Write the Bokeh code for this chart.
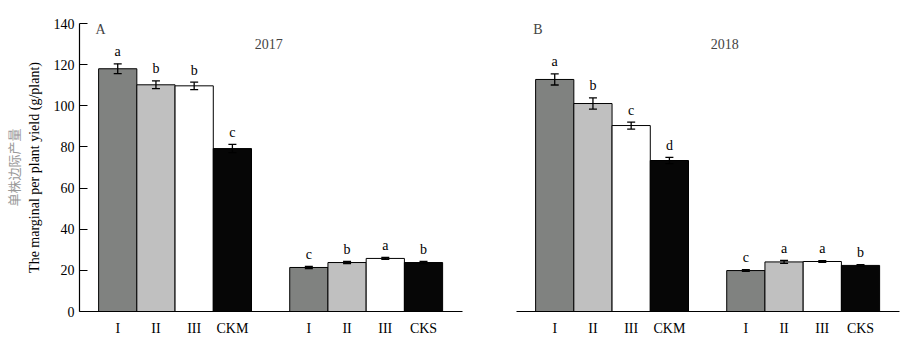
from bokeh.plotting import figure
from bokeh.models import (ColumnDataSource, Whisker, TeeHead, FixedTicker,
                          Range1d, Title, Label)
from bokeh.layouts import row
from bokeh.embed import file_html
from bokeh.resources import INLINE
from bokeh.core.properties import value

# ---- data ----
treatments = ["I", "II", "III", "CKM", "I", "II", "III", "CKS"]
bar_colors = ["#808280", "#c0c0c0", "#ffffff", "#060606",
              "#808280", "#c0c0c0", "#ffffff", "#060606"]
yield_2017 = [118.0, 110.2, 109.7, 79.2, 21.4, 23.8, 25.8, 23.8]
err_2017 = [2.4, 1.9, 1.8, 2.0, 0.5, 0.5, 0.5, 0.5]
sig_2017 = ["a", "b", "b", "c", "c", "b", "a", "b"]
yield_2018 = [112.8, 101.1, 90.4, 73.4, 19.9, 24.1, 24.3, 22.4]
err_2018 = [2.7, 2.7, 1.7, 1.5, 0.4, 0.7, 0.4, 0.4]
sig_2018 = ["a", "b", "c", "d", "c", "a", "a", "b"]
y_ticks = [0, 20, 40, 60, 80, 100, 120, 140]

SERIF = "Liberation Serif"
FS = "14px"

# bar positions: two groups of four, one empty slot between
xpos = [i + 1 + (i // 4) for i in range(len(treatments))]


def make_panel(vals, errs, sig, panel_letter, year, show_y, width,
               border_left, border_right, letter_x, year_x):
    p = figure(width=width, height=345, x_range=Range1d(0, 10.02),
               y_range=Range1d(0, 140), output_backend="svg",
               toolbar_location=None, min_border_left=border_left,
               min_border_right=border_right, min_border_top=23,
               min_border_bottom=34)
    p.outline_line_color = None
    p.grid.visible = False
    p.background_fill_color = "white"
    p.border_fill_color = "white"

    src = ColumnDataSource(dict(
        x=xpos, top=vals, color=bar_colors,
        upper=[v + e for v, e in zip(vals, errs)],
        lower=[v - e for v, e in zip(vals, errs)],
        sig=sig))

    p.vbar(x="x", top="top", bottom=0, width=1.0, fill_color="color",
           line_color="black", line_width=1, source=src)

    w = Whisker(source=src, base="x", upper="upper", lower="lower",
                line_color="black", line_width=1.3, level="overlay",
                upper_head=TeeHead(size=8, line_width=1.3, line_color="black"),
                lower_head=TeeHead(size=8, line_width=1.3, line_color="black"))
    p.add_layout(w)

    p.text(x="x", y="upper", text="sig", source=src, text_align="center",
           text_baseline="alphabetic", y_offset=-12,
           text_font=value(SERIF), text_font_size=FS, text_color="black")

    p.add_layout(Label(x=letter_x, y=137, text=panel_letter,
                       text_align="center", text_baseline="middle",
                       text_font=SERIF, text_font_size=FS))
    p.add_layout(Label(x=year_x, y=130, text=year, text_align="center",
                       text_baseline="middle", text_font=SERIF,
                       text_font_size=FS))

    # x axis
    xa = p.xaxis[0]
    xa.ticker = FixedTicker(ticks=xpos)
    xa.major_label_overrides = {x: t for x, t in zip(xpos, treatments)}
    xa.major_tick_in = 0
    xa.major_tick_out = 0
    xa.minor_tick_line_color = None
    xa.major_label_standoff = 9
    xa.major_label_text_font = SERIF
    xa.major_label_text_font_size = FS
    xa.major_label_text_color = "black"
    xa.axis_line_color = "black"
    xa.axis_line_width = 1.2

    ya = p.yaxis[0]
    if show_y:
        ya.ticker = FixedTicker(ticks=y_ticks)
        ya.major_tick_in = 8
        ya.major_tick_out = 0
        ya.minor_tick_line_color = None
        ya.major_label_standoff = 5
        ya.major_label_text_font = SERIF
        ya.major_label_text_font_size = FS
        ya.major_label_text_color = "black"
        ya.axis_line_color = "black"
        ya.axis_line_width = 1.2
        ya.axis_label = "The marginal per plant yield (g/plant)"
        ya.axis_label_text_font = SERIF
        ya.axis_label_text_font_size = FS
        ya.axis_label_text_font_style = "normal"
        ya.axis_label_text_color = "black"
        ya.axis_label_standoff = 9
        p.add_layout(Title(text="单株边际产量", text_font="Noto Sans CJK SC",
                           text_font_size="13px", text_font_style="normal",
                           text_color="#999999", align="center", standoff=1),
                     "left")
    else:
        ya.visible = False
    return p


left = make_panel(yield_2017, err_2017, sig_2017, "A", "2017", True,
                  488, 79, 26, 0.55, 4.95)
right = make_panel(yield_2018, err_2018, sig_2018, "B", "2018", False,
                   428, 28, 17, 0.56, 5.45)

layout = row(left, right, spacing=0)
open("out.html", "w").write(file_html(layout, INLINE))
